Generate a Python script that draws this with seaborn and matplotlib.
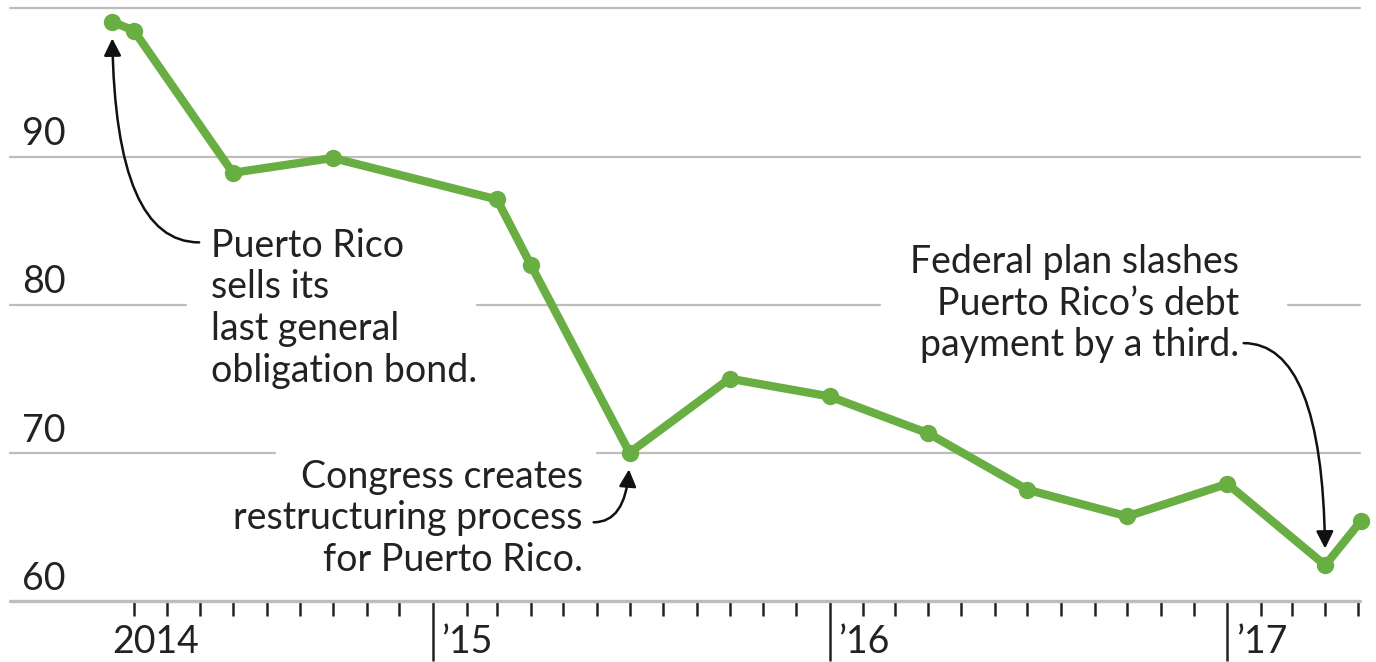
import matplotlib
matplotlib.use("Agg")
import matplotlib.pyplot as plt
import matplotlib.dates as mdates
import matplotlib.transforms as mtransforms
import seaborn as sns
import pandas as pd

# ---------------- data ----------------
dates = ['2014-03-12', '2014-04-01', '2014-07-01', '2014-10-01', '2015-03-01',
         '2015-04-01', '2015-07-01', '2015-10-01', '2016-01-01', '2016-04-01',
         '2016-07-01', '2016-10-01', '2017-01-01', '2017-04-01', '2017-05-04']
prices = [99.1, 98.5, 88.9, 89.9, 87.1, 82.7, 70.0, 75.0, 73.8, 71.3,
          67.5, 65.7, 67.9, 62.4, 65.4]
y_ticks = [60, 70, 80, 90]
year_ticks = ['2015-01-01', '2016-01-01', '2017-01-01']
year_labels = ['\u201915', '\u201916', '\u201917']
first_year_label = '2014'

df = pd.DataFrame({'date': pd.to_datetime(dates), 'price': prices})

# ---------------- style ----------------
sns.set_theme(style='white')
plt.rcParams['font.family'] = ['Lato', 'DejaVu Sans']

GREEN = '#69ae42'
GRID = '#bdbdbd'
FS = 27

fig = plt.figure(figsize=(13.76, 6.62), dpi=100)
ax = fig.add_axes([10 / 1376, 61.2 / 662, 1350 / 1376, 592.4 / 662])

ax.set_xlim(pd.Timestamp('2013-12-08'), pd.Timestamp('2017-05-03'))
ax.set_ylim(60, 100)

# gridlines (with gaps behind annotations)
grid_segments = {
    100: [(0, 1)],
    90: [(0, 1)],
    80: [(0, 0.1304), (0.3459, 0.6444), (0.9467, 1)],
    70: [(0, 0.1963), (0.4348, 1)],
}
for val, segs in grid_segments.items():
    for a, b in segs:
        ax.axhline(val, xmin=a, xmax=b, color=GRID, lw=1.6, zorder=1,
                   clip_on=False)
ax.axhline(60, color=GRID, lw=2.4, zorder=1, clip_on=False)

# main line
sns.lineplot(data=df, x='date', y='price', ax=ax, color=GREEN, lw=6,
             marker='o', markersize=12.5, markeredgewidth=0, zorder=5,
             clip_on=False)

for s in ax.spines.values():
    s.set_visible(False)

# y labels inside plot, above gridlines
ytrans = mtransforms.offset_copy(ax.get_yaxis_transform(), fig=fig, x=0, y=8,
                                 units='points')
for v in y_ticks:
    ax.text(0.009, v, str(v), transform=ytrans, ha='left', va='baseline',
            fontsize=FS, color='#222222')
ax.set_yticks([])
ax.set_ylabel('')
ax.set_xlabel('')

# x ticks
minor = [d for d in pd.date_range('2014-04-01', '2017-05-01', freq='MS')
         if d.month != 1]
ax.set_xticks(pd.to_datetime(year_ticks))
ax.set_xticks(minor, minor=True)
ax.set_xticklabels([])
ax.tick_params(axis='x', which='major', direction='out', length=43, width=1.8,
               color='#222222', bottom=True)
ax.tick_params(axis='x', which='minor', direction='out', length=11, width=1.8,
               color='#222222', bottom=True)

xtrans = ax.get_xaxis_transform()
for d, lab in zip(year_ticks, year_labels):
    t = mtransforms.offset_copy(xtrans, fig=fig, x=6, y=0, units='points')
    ax.text(pd.Timestamp(d), -0.088, lab, transform=t, ha='left',
            va='baseline', fontsize=FS, color='#222222', clip_on=False)
ax.text(pd.Timestamp(dates[0]), -0.088, first_year_label, transform=xtrans,
        ha='left', va='baseline', fontsize=FS, color='#222222', clip_on=False)

# annotations
txt_kw = dict(fontsize=FS, color='#222222', linespacing=1.2, va='top',
              zorder=6)
ax.text(pd.Timestamp('2014-06-11'), 85.2,
        'Puerto Rico\nsells its\nlast general\nobligation bond.',
        ha='left', multialignment='left', **txt_kw)
ax.text(pd.Timestamp('2015-05-19'), 69.6,
        'Congress creates\nrestructuring process\nfor Puerto Rico.',
        ha='right', multialignment='right', **txt_kw)
ax.text(pd.Timestamp('2017-01-12'), 84.1,
        'Federal plan slashes\nPuerto Rico\u2019s debt\npayment by a third.',
        ha='right', multialignment='right', **txt_kw)

arrow_kw = dict(arrowstyle='-|>', connectionstyle='angle3,angleA=0,angleB=90',
                shrinkA=0, shrinkB=12, color='#111111', lw=1.8,
                mutation_scale=26)
ax.annotate('', xy=(df['date'][0], df['price'][0]),
            xytext=(pd.Timestamp('2014-05-31'), 84.2),
            arrowprops=arrow_kw, zorder=7)
ax.annotate('', xy=(df['date'][6], df['price'][6]),
            xytext=(pd.Timestamp('2015-05-29'), 65.3),
            arrowprops=arrow_kw, zorder=7)
ax.annotate('', xy=(df['date'][13], df['price'][13]),
            xytext=(pd.Timestamp('2017-01-16'), 77.4),
            arrowprops=arrow_kw, zorder=7)

fig.savefig('out.png', dpi=100)
